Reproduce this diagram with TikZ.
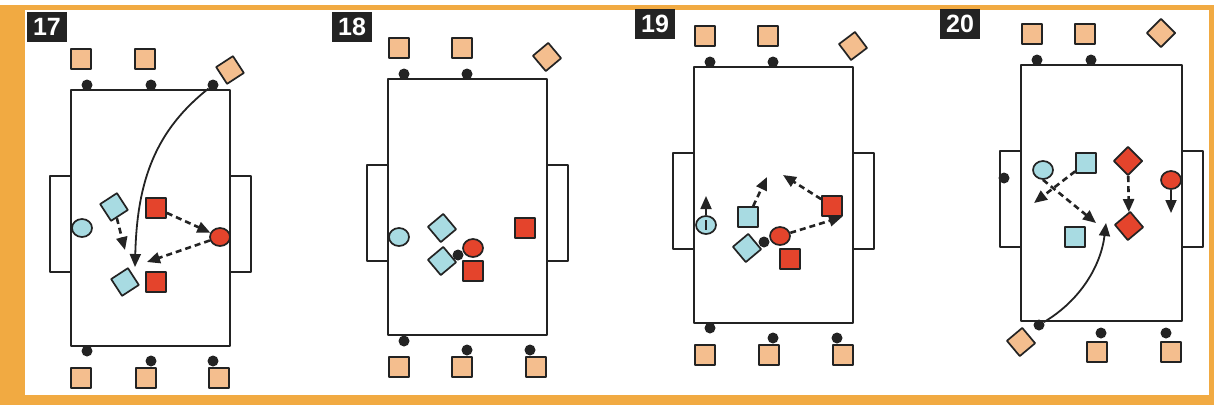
\documentclass[tikz,border=0pt]{standalone}
\usepackage{fontspec}
\setsansfont{Liberation Sans}
\usetikzlibrary{arrows.meta,shapes.geometric}

\definecolor{frameorange}{RGB}{241,170,66}
\definecolor{coachfill}{RGB}{244,190,142}
\definecolor{bluefill}{RGB}{168,219,226}
\definecolor{redfill}{RGB}{228,68,44}
\definecolor{inkgray}{RGB}{35,35,35}

\begin{document}
\begin{tikzpicture}[
		x=1pt,
		y=-1pt,
		line join=round,
		>={Triangle[length=13pt,width=11pt]},
		pitch/.style={inkgray, line width=2pt},
		cone/.style={circle, fill=inkgray, inner sep=0pt, minimum size=11pt},
		coach/.style={draw=inkgray, line width=1.7pt, fill=coachfill, inner sep=0pt, minimum size=20pt},
		blueplayer/.style={coach, fill=bluefill},
		redplayer/.style={coach, fill=redfill},
		bluekeeper/.style={ellipse, draw=inkgray, line width=1.7pt, fill=bluefill, inner sep=0pt, minimum width=20pt, minimum height=18pt},
		redkeeper/.style={bluekeeper, fill=redfill},
		pass/.style={->, inkgray, line width=2.6pt, dash pattern=on 6pt off 4pt},
		run/.style={->, inkgray, line width=1.8pt},
		numlab/.style={fill=inkgray, text=white, inner sep=0pt, minimum width=40pt, minimum height=30pt, font=\sffamily\bfseries\fontsize{25}{25}\selectfont}
	]
	
	% Frame
	\useasboundingbox (0,0) rectangle (1214,405);
	\fill[frameorange] (0,5) rectangle (1214,405);
	\fill[white] (25,10) rectangle (1209,395);
	
	% Pitches and goals
	\def\H{256}
	\foreach \px/\py/\w in {71/90/159, 388/79/159, 694/67/159, 1021/65/161} {
		\draw[pitch] (\px,\py) rectangle (\px+\w,\py+\H);
		\draw[pitch] (\px,\py+86) -- (\px-21,\py+86) -- (\px-21,\py+182) -- (\px,\py+182);
		\draw[pitch] (\px+\w,\py+86) -- (\px+\w+21,\py+86) -- (\px+\w+21,\py+182) -- (\px+\w,\py+182);
	}
	
	% Numbers
	\foreach \n/\x/\y in {17/47/27, 18/352/27, 19/655/24, 20/960/24}
		\node[numlab] (lab\n) at (\x,\y) {\n};
	
	% 17
	\begin{scope}[shift={(71,90)}]
		\foreach \x/\y [count=\i] in {10/-31, 74/-31, 10/288, 75/288, 148/288}
			\node[coach] (co17-\i) at (\x,\y) {};
		\node[coach, rotate=33] (co17-r) at (159,-20) {};
		\foreach \x/\y [count=\i] in {16/-5, 80/-5, 142/-5, 16/261, 80/271, 142/271}
			\node[cone] (cn17-\i) at (\x,\y) {};
		
		\node[bluekeeper] (bk17) at (11,138) {};
		\node[blueplayer, rotate=33] (b17a) at (43,117) {};
		\node[blueplayer, rotate=33] (b17b) at (54,192) {};
		\node[redplayer] (r17a) at (85,118) {};
		\node[redplayer] (r17b) at (85,192) {};
		\node[redkeeper] (rk17) at (149,147) {};
		
		\coordinate (e17a) at (54,160);
		\coordinate (e17b) at (76,172);
		\coordinate (e17c) at (64,177);
		\draw[pass] (b17a) -- (e17a);
		\draw[pass] (r17a) -- (rk17);
		\draw[pass] (rk17) -- (e17b);
		\draw[run] (cn17-3) .. controls (85,40) and (66,90) .. (e17c);
	\end{scope}
	
	% 18
	\begin{scope}[shift={(388,79)}]
		\foreach \x/\y [count=\i] in {11/-31, 74/-31, 11/288, 74/288, 148/288}
			\node[coach] (co18-\i) at (\x,\y) {};
		\node[coach, rotate=40] (co18-r) at (159,-22) {};
		\foreach \x/\y [count=\i] in {16/-5, 79/-5, 16/262, 79/271, 142/271}
			\node[cone] (cn18-\i) at (\x,\y) {};
		
		\node[bluekeeper] (bk18) at (11,158) {};
		\node[blueplayer, rotate=40] (b18a) at (54,149) {};
		\node[blueplayer, rotate=40] (b18b) at (54,182) {};
		\node[cone] (ball18) at (70,176) {};
		\node[redkeeper] (rk18) at (85,169) {};
		\node[redplayer] (r18a) at (85,192) {};
		\node[redplayer] (r18b) at (137,149) {};
	\end{scope}
	
	% 19
	\begin{scope}[shift={(694,67)}]
		\foreach \x/\y [count=\i] in {11/-31, 74/-31, 11/288, 75/288, 149/288}
			\node[coach] (co19-\i) at (\x,\y) {};
		\node[coach, rotate=37] (co19-r) at (159,-21) {};
		\foreach \x/\y [count=\i] in {16/-5, 79/-5, 16/261, 79/271, 143/271}
			\node[cone] (cn19-\i) at (\x,\y) {};
		
		\node[bluekeeper] (bk19) at (12,158) {};
		\draw[inkgray, line width=1.7pt] (12,153) -- (12,163);
		\node[blueplayer] (b19a) at (54,150) {};
		\node[blueplayer, rotate=40] (b19b) at (53,181) {};
		\node[cone] (ball19) at (70,175) {};
		\node[redkeeper] (rk19) at (86,169) {};
		\node[redplayer] (r19a) at (96,192) {};
		\node[redplayer] (r19b) at (138,139) {};
		
		\coordinate (e19a) at (12,129);
		\coordinate (e19b) at (73,110);
		\coordinate (e19c) at (89,108);
		\coordinate (e19d) at (148,150);
		\draw[run] (bk19) -- (e19a);
		\draw[pass] (b19a) -- (e19b);
		\draw[pass] (r19b) -- (e19c);
		\draw[pass] (rk19) -- (e19d);
	\end{scope}
	
	% 20
	\begin{scope}[shift={(1021,65)}]
		\foreach \x/\y [count=\i] in {11/-31, 64/-31, 76/287, 150/287}
			\node[coach] (co20-\i) at (\x,\y) {};
		\node[coach, rotate=45] (co20-r) at (140,-32) {};
		\node[coach, rotate=40] (co20-l) at (0,277) {};
		\foreach \x/\y [count=\i] in {16/-5, 70/-5, 18/260, 80/268, 145/268, -17/113}
			\node[cone] (cn20-\i) at (\x,\y) {};
		
		\node[bluekeeper] (bk20) at (22,105) {};
		\node[blueplayer] (b20a) at (65,98) {};
		\node[redplayer, rotate=45] (r20a) at (107,96) {};
		\node[redkeeper] (rk20) at (150,115) {};
		\node[blueplayer] (b20b) at (54,172) {};
		\node[redplayer, rotate=40] (r20b) at (108,161) {};
		
		\coordinate (e20a) at (13,138);
		\coordinate (e20b) at (75,158);
		\coordinate (e20c) at (150,148);
		\coordinate (e20d) at (85,158);
		\draw[pass] (b20a) -- (e20a);
		\draw[pass] (bk20.south) -- (e20b);
		\draw[pass] (r20a) -- (r20b);
		\draw[run] (rk20) -- (e20c);
		\draw[run] (cn20-3) .. controls (60,235) and (80,200) .. (e20d);
	\end{scope}
	
\end{tikzpicture}
\end{document}
